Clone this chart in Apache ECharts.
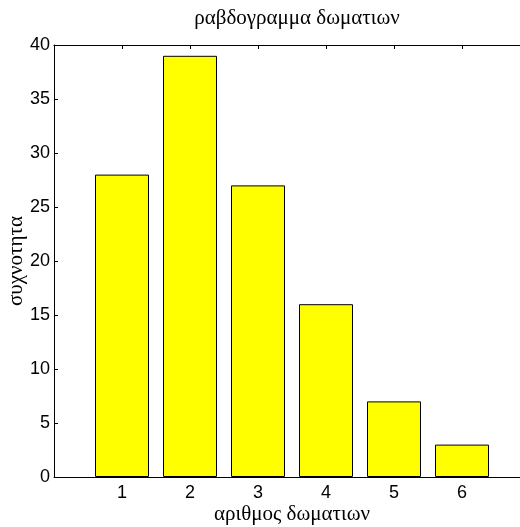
<!DOCTYPE html>
<html><head><meta charset="utf-8">
<script src="https://cdn.jsdelivr.net/npm/echarts@6/dist/echarts.min.js"></script>
<style>html,body{margin:0;padding:0;background:#fff;overflow:hidden}#c{width:520px;height:527px}</style>
</head><body><div id="c"></div>
<script>
const categories = [1, 2, 3, 4, 5, 6];
const counts = [28, 39, 27, 16, 7, 3];
const titleText = 'ραβδογραμμα δωματιων';
const xName = 'αριθμος δωματιων';
const yName = 'συχνοτητα';

const chart = echarts.init(document.getElementById('c'), null, {renderer: 'canvas'});
const serif = '"Liberation Serif", "DejaVu Serif", serif';
const sans = '"Liberation Sans", Arial, sans-serif';
const axisLine = {show: true, lineStyle: {color: '#000', width: 1}};
chart.setOption({
  animation: false,
  backgroundColor: '#fff',
  title: {text: titleText, left: 292, top: 3, textAlign: 'center',
    textStyle: {fontFamily: serif, fontSize: 21, fontWeight: 'normal', color: '#000'}},
  grid: {left: 54, top: 45, width: 476, height: 432, containLabel: false, outerBoundsMode: 'none'},
  xAxis: [{
    type: 'value', min: 0, max: 7, interval: 1, position: 'bottom',
    name: xName, nameLocation: 'middle', nameGap: 27, nameMoveOverlap: false,
    nameTextStyle: {fontFamily: serif, fontSize: 21, color: '#000'},
    axisLine: axisLine, axisTick: {show: true, inside: true, length: 4, lineStyle: {color: '#000'}},
    axisLabel: {fontFamily: sans, fontSize: 18, color: '#000', margin: 7,
      formatter: v => categories.includes(v) ? String(v) : ''},
    splitLine: {show: false}
  }, {
    type: 'value', min: 0, max: 7, interval: 1, position: 'top',
    axisLine: axisLine, axisTick: {show: true, inside: true, length: 4, lineStyle: {color: '#000'}},
    axisLabel: {show: false}, splitLine: {show: false}
  }],
  yAxis: [{
    type: 'value', min: 0, max: 40, interval: 5, position: 'left',
    name: yName, nameLocation: 'middle', nameGap: 27, nameRotate: 90, nameMoveOverlap: false,
    nameTextStyle: {fontFamily: serif, fontSize: 21, color: '#000'},
    axisLine: axisLine, axisTick: {show: true, inside: true, length: 4, lineStyle: {color: '#000'}},
    axisLabel: {fontFamily: sans, fontSize: 18, color: '#000', margin: 4},
    splitLine: {show: false}
  }],
  series: [{
    type: 'bar', xAxisIndex: 0, yAxisIndex: 0, barWidth: 54,
    data: categories.map((c, i) => [c, counts[i]]),
    itemStyle: {color: '#ffff00', borderColor: '#000', borderWidth: 1}
  }]
});
</script></body></html>
